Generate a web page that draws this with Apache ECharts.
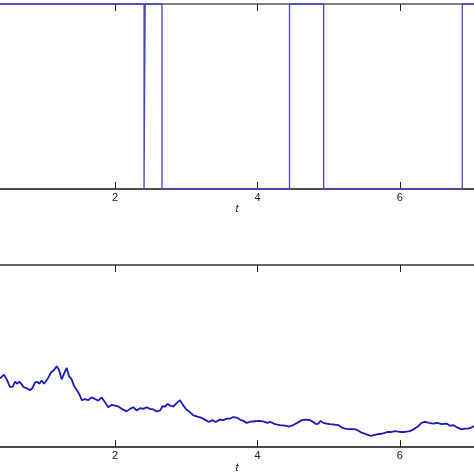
<!DOCTYPE html>
<html>
<head>
<meta charset="utf-8">
<script src="https://cdn.jsdelivr.net/npm/echarts@6/dist/echarts.min.js"></script>
<style>html,body{margin:0;padding:0;background:#fff}#c{width:474px;height:474px}</style>
</head>
<body>
<div id="c"></div>
<script>
// visible time window and tick labels
var tRange = [0.386, 7.04];
var tickValues = [2, 4, 6];

// top panel: switching state (value held from each time onward)
var switchTimes  = [0.386, 2.408, 2.424, 2.66, 4.45, 4.93, 6.875, 7.04];
var switchStates = [1, 0, 1, 0, 1, 0, 1, 1];

// bottom panel: path
var pathT = [0.386,0.410,0.442,0.480,0.526,0.564,0.597,0.629,0.657,0.691,0.713,0.761,0.807,0.839,0.877,0.909,0.938,0.971,1.004,1.032,1.064,1.098,1.126,1.148,1.182,1.214,1.252,1.284,1.322,1.354,1.392,1.425,1.463,1.499,1.533,1.579,1.625,1.673,1.719,1.766,1.813,1.860,1.906,1.954,
2.000,2.046,2.094,2.164,2.211,2.257,2.305,2.351,2.397,2.445,2.491,2.538,2.585,2.632,2.664,2.702,2.740,2.772,2.818,2.866,2.912,2.959,3.006,3.053,3.099,3.147,3.207,3.263,3.319,3.366,3.413,3.474,3.520,3.568,3.614,
3.660,3.708,3.754,3.801,3.849,3.905,3.965,4.035,4.091,4.138,4.185,4.246,4.316,4.386,4.446,4.503,4.559,4.620,4.681,4.737,4.783,4.821,4.853,4.887,4.924,4.971,5.018,5.074,5.134,5.182,5.228,5.288,
5.355,5.401,5.463,5.533,5.589,5.649,5.710,5.766,5.822,5.884,5.930,6.000,6.070,6.140,6.197,6.257,6.304,6.351,6.411,6.467,6.524,6.585,6.655,6.702,6.748,6.804,6.866,6.912,6.959,7.006,7.038];
var pathV = [0.377,0.372,0.398,0.372,0.331,0.331,0.359,0.348,0.359,0.345,0.331,0.323,0.312,0.323,0.354,0.359,0.348,0.366,0.348,0.363,0.381,0.408,0.413,0.425,0.444,0.425,0.372,0.402,0.435,0.390,0.372,0.336,0.314,0.291,0.258,0.264,0.258,0.273,0.264,0.255,0.273,0.246,0.219,0.232,
0.228,0.223,0.210,0.196,0.210,0.219,0.201,0.214,0.210,0.219,0.210,0.207,0.196,0.201,0.223,0.223,0.237,0.228,0.223,0.241,0.258,0.228,0.205,0.192,0.174,0.169,0.162,0.151,0.138,0.148,0.138,0.151,0.148,0.156,0.156,
0.165,0.162,0.151,0.144,0.133,0.140,0.142,0.144,0.140,0.133,0.138,0.126,0.121,0.118,0.113,0.121,0.133,0.148,0.151,0.148,0.138,0.126,0.129,0.144,0.133,0.129,0.126,0.124,0.121,0.108,0.102,0.099,
0.099,0.094,0.079,0.070,0.061,0.067,0.072,0.075,0.083,0.083,0.088,0.083,0.083,0.088,0.099,0.115,0.133,0.138,0.133,0.129,0.133,0.126,0.129,0.117,0.121,0.108,0.097,0.101,0.102,0.108,0.115];

function zip(a, b) { return a.map(function (x, i) { return [x, b[i]]; }); }

var fontFam = '"Liberation Sans", Arial, sans-serif';
function xAx(grid, pos, showLabel, lineColor, name) {
  return {
    type: 'value', gridIndex: grid, position: pos,
    min: tRange[0], max: tRange[1],
    axisLine: { show: true, onZero: false, lineStyle: { color: lineColor, width: 1.6 } },
    axisTick: { show: true, inside: true, length: 7, customValues: tickValues, lineStyle: { color: '#222', width: 1 } },
    axisLabel: { show: showLabel, customValues: tickValues, margin: 3, fontSize: 11, color: '#222', fontFamily: fontFam },
    splitLine: { show: false },
    name: name, nameLocation: 'middle', nameGap: 13,
    nameTextStyle: { fontStyle: 'italic', fontSize: 11, color: '#222', fontFamily: fontFam }
  };
}
function yAx(grid, min, max) {
  return { type: 'value', gridIndex: grid, min: min, max: max, show: false };
}

var chart = echarts.init(document.getElementById('c'), null, { renderer: 'canvas' });
chart.setOption({
  animation: false,
  backgroundColor: '#fff',
  grid: [
    { left: 0, right: 0, top: 4, height: 185 },
    { left: 0, right: 0, top: 265, height: 185.7 }
  ],
  xAxis: [
    xAx(0, 'bottom', true, '#111', 't'),
    xAx(0, 'top', false, '#555', ''),
    xAx(1, 'bottom', true, '#111', 't'),
    xAx(1, 'top', false, '#333', '')
  ],
  yAxis: [yAx(0, 0, 1), yAx(1, 0, 1)],
  series: [
    {
      type: 'line', xAxisIndex: 0, yAxisIndex: 0, step: 'end',
      data: zip(switchTimes, switchStates), showSymbol: false, clip: false,
      lineStyle: { color: '#4646c4', width: 1.3 }, z: 5
    },
    {
      type: 'line', xAxisIndex: 2, yAxisIndex: 1,
      data: zip(pathT, pathV), showSymbol: false,
      lineStyle: { color: '#1c1cb4', width: 1.8 }, z: 5
    }
  ]
});
</script>
</body>
</html>
